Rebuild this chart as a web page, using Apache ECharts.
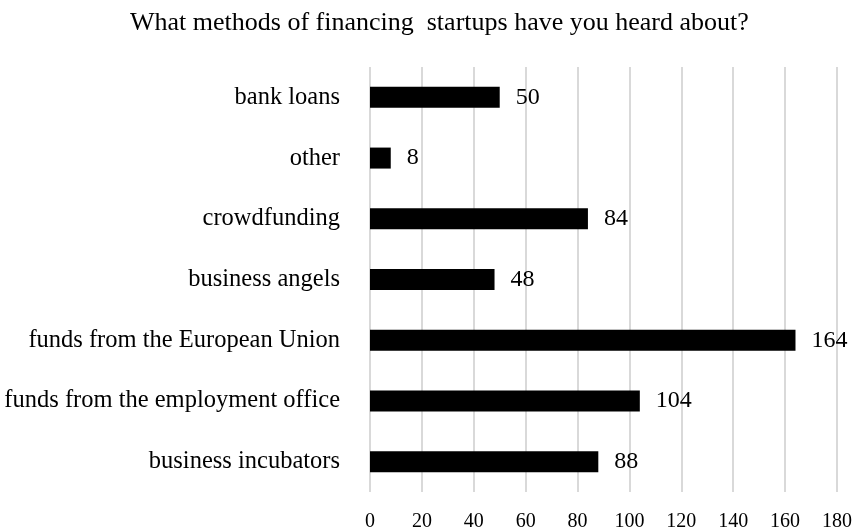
<!DOCTYPE html>
<html>
<head>
<meta charset="utf-8">
<script src="https://cdn.jsdelivr.net/npm/echarts@6/dist/echarts.min.js"></script>
<style>
  html, body { margin: 0; padding: 0; background: #fff; }
  #chart { width: 855px; height: 528px; }
</style>
</head>
<body>
<div id="chart"></div>
<script>
// Survey answers, listed bottom-to-top as the category axis draws them
const categories = [
  'business incubators',
  'funds from the employment office',
  'funds from the European Union',
  'business angels',
  'crowdfunding',
  'other',
  'bank loans'
];
const counts = [88, 104, 164, 48, 84, 8, 50];
const xTicks = [0, 20, 40, 60, 80, 100, 120, 140, 160, 180];

const serif = '"Liberation Serif", "Times New Roman", serif';

const chart = echarts.init(document.getElementById('chart'));
chart.setOption({
  animation: false,
  backgroundColor: '#fff',
  title: {
    text: 'What methods of financing  startups have you heard about?',
    left: 125,
    top: 5,
    textStyle: { fontFamily: serif, fontSize: 26, fontWeight: 'normal', color: '#000' }
  },
  grid: { left: 370, right: 18, top: 67, bottom: 36, outerBoundsMode: 'none', containLabel: false },
  xAxis: {
    type: 'value',
    min: xTicks[0],
    max: xTicks[xTicks.length - 1],
    interval: xTicks[1] - xTicks[0],
    axisLine: { show: false },
    axisTick: { show: false },
    axisLabel: { fontFamily: serif, fontSize: 20, color: '#000', margin: 20 },
    splitLine: { show: true, lineStyle: { color: '#d9d9d9', width: 2 } }
  },
  yAxis: {
    type: 'category',
    data: categories,
    axisLine: { show: false },
    axisTick: { show: false },
    axisLabel: { fontFamily: serif, fontSize: 24.5, color: '#000', margin: 30 }
  },
  series: [{
    type: 'bar',
    data: counts,
    barWidth: 21,
    itemStyle: { color: '#000' },
    label: {
      show: true,
      position: 'right',
      distance: 16,
      fontFamily: serif,
      fontSize: 24,
      color: '#000'
    }
  }]
});
</script>
</body>
</html>
